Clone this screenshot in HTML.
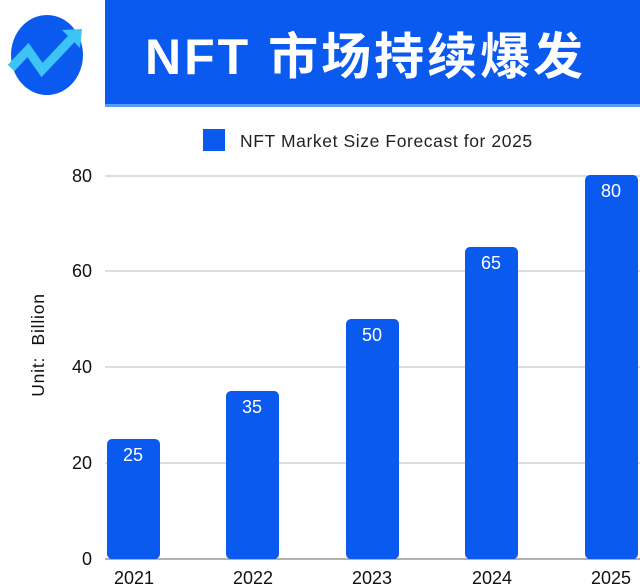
<!DOCTYPE html>
<html><head><meta charset="utf-8"><style>
body{margin:0;background:#fff;}
svg{display:block;font-family:"Liberation Sans","Noto Sans CJK SC",sans-serif;}
</style></head><body>
<svg width="640" height="586" viewBox="0 0 640 586">
<rect x="105" y="0" width="535" height="106" fill="#0a5af0"/>
<rect x="105" y="104" width="535" height="3" fill="#5a9af8"/>
<ellipse cx="47" cy="55" rx="36" ry="40" fill="#0a5af0"/>
<polyline points="11,68 28,50 42,70 75,35" fill="none" stroke="#3ec4f4" stroke-width="9" stroke-linejoin="miter"/>
<polygon points="62,30 82,29 80,48" fill="#3ec4f4"/>
<text x="145" y="74" font-size="50" font-weight="bold" fill="#fff" letter-spacing="3">NFT 市场持续爆发</text>
<rect x="203" y="129" width="22" height="22" fill="#0a5af0"/>
<text x="240" y="147" font-size="17.5" fill="#222" letter-spacing="0.6">NFT Market Size Forecast for 2025</text>
<g stroke="#bbb" stroke-width="1">
<line x1="105" x2="640" y1="176" y2="176"/>
<line x1="105" x2="640" y1="271" y2="271"/>
<line x1="105" x2="640" y1="367" y2="367"/>
<line x1="105" x2="640" y1="463" y2="463"/>
</g>
<line x1="105" x2="640" y1="559" y2="559" stroke="#666"/>
<g font-size="18" fill="#111" text-anchor="end">
<text x="92" y="182">80</text><text x="92" y="277">60</text><text x="92" y="373">40</text><text x="92" y="469">20</text><text x="92" y="565">0</text>
</g>
<text transform="translate(44,345) rotate(-90)" font-size="17.5" fill="#111" text-anchor="middle" letter-spacing="0.8" xml:space="preserve">Unit:  Billion</text>
<g fill="#0a5af0">
<rect x="107" y="439" width="53" height="120" rx="5"/>
<rect x="226" y="391" width="53" height="168" rx="5"/>
<rect x="346" y="319" width="53" height="240" rx="5"/>
<rect x="465" y="247" width="53" height="312" rx="5"/>
<rect x="585" y="175" width="53" height="384" rx="5"/>
</g>
<g font-size="18" fill="#fff" text-anchor="middle">
<text x="133" y="461">25</text><text x="252" y="413">35</text><text x="372" y="341">50</text><text x="491" y="269">65</text><text x="611" y="197">80</text>
</g>
<g font-size="18" fill="#111" text-anchor="middle">
<text x="134" y="584">2021</text><text x="253" y="584">2022</text><text x="372" y="584">2023</text><text x="492" y="584">2024</text><text x="611" y="584">2025</text>
</g>
</svg>
</body></html>
